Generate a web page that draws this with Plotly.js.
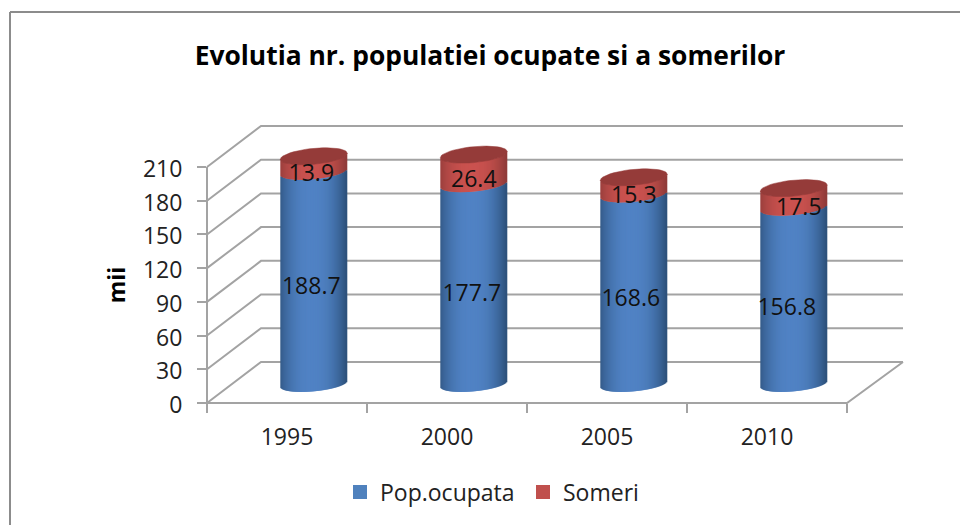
<!DOCTYPE html>
<html><head><meta charset="utf-8">
<script src="https://cdn.plot.ly/plotly-3.0.1.min.js"></script>
<style>html,body{margin:0;padding:0;background:#fff;overflow:hidden}</style>
</head><body><div id="chart" style="width:960px;height:525px"></div>
<script>
const years = ['1995','2000','2005','2010'];
const popOcupata = [188.7,177.7,168.6,156.8];
const someri = [13.9,26.4,15.3,17.5];
const yTicks = [0,30,60,90,120,150,180,210];
const seriesNames = ['Pop.ocupata','Someri'];
const titleText = 'Evolutia nr. populatiei ocupate si a somerilor';
const yTitle = 'mii';

// layout frame in pixels
const L=190,R=915,T=115,B=425,axL=207,axR=847,axT=167,axB=403;
const W=R-L,H=B-T, pxPerCat=(axR-axL)/4, pxPerUnit=(axB-axT)/210;
const dataX=p=>-0.5+(p-axL)/pxPerCat, dataY=p=>(axB-p)/pxPerUnit;
const paperX=p=>(p-L)/W, paperY=p=>(B-p)/H;

// pseudo-3D projection, in axis units
const depthX = 0.3375, depthXRight = 0.35, depthY = 36.5;
const cylDx = 0.1675, cylDy = 16.9;
const halfW = 0.2063, ellH = 6.5, tilt = 2.7, N = 67;
const labelFont = 'Open Sans, Noto Sans, sans-serif';
const blueLabelNudgeX = [-2.5,-2,-3,-7].map(v=>v/160);
const blueLabelNudgeY = [-8.9,-9.7,-9.7,-12.2];
const redLabelNudgeX = [-2.5,0,0,5].map(v=>v/160);

const xs = years.map((_,i)=>i);
const mix = (a,b,t)=>'rgb('+a.map((v,i)=>Math.round(v+(b[i]-v)*t)).join(',')+')';
const shade = (light,dark,u)=>{const t=Math.min(1,Math.pow(Math.abs(u+0.05)/1.05,2.4));return mix(light,dark,t);};
const blueL=[80,130,196], blueD=[44,80,122], redL=[202,82,79], redD=[142,58,56];

const traces = [];
// walls / floor lines (bottom subplot)
const gx=[], gy=[];
yTicks.forEach(v=>{
  gx.push(-0.5,-0.5+depthX,3.5+depthXRight,null);
  gy.push(v,v+depthY,v+depthY,null);
});
gx.push(3.5+depthXRight,3.5,-0.5,-0.5); gy.push(depthY,0,0,210);
traces.push({type:'scatter',mode:'lines',x:gx,y:gy,line:{color:'#a3a3a3',width:2},showlegend:false,hoverinfo:'skip'});

// cylinder bodies: thin vertical bars
const tot = popOcupata.map((v,i)=>v+someri[i]);
for(let k=0;k<N;k++){
  const u=-1+(2*k+1)/N, low=tilt*u-ellH*Math.sqrt(1-u*u);
  const x=xs.map(i=>i+cylDx+u*halfW);
  const w=2*halfW/N*2;
  traces.push({type:'bar',xaxis:'x2',yaxis:'y2',x,y:popOcupata,base:xs.map(()=>cylDy+low),width:w,
    marker:{color:shade(blueL,blueD,u),line:{width:0}},showlegend:false,hoverinfo:'skip'});
  traces.push({type:'bar',xaxis:'x2',yaxis:'y2',x,y:someri,base:popOcupata.map(v=>cylDy+v+low),width:w,
    marker:{color:shade(redL,redD,u),line:{width:0}},showlegend:false,hoverinfo:'skip'});
}
// top caps
tot.forEach((v,i)=>{
  const cx=[],cy=[];
  for(let a=0;a<=48;a++){
    const th=a/48*2*Math.PI,u=Math.cos(th);
    cx.push(i+cylDx+u*(halfW+0.003));
    cy.push(cylDy+v+tilt*u+(ellH+0.6)*Math.sin(th));
  }
  traces.push({type:'scatter',mode:'lines',xaxis:'x2',yaxis:'y2',x:cx,y:cy,fill:'toself',fillcolor:'#953b39',
    line:{color:'#953b39',width:0.5},showlegend:false,hoverinfo:'skip'});
});
// data labels
const lf={family:labelFont,size:23,color:'#111'};
traces.push({type:'scatter',mode:'text',xaxis:'x2',yaxis:'y2',
  x:xs.map(i=>i+cylDx+blueLabelNudgeX[i]),y:popOcupata.map((v,i)=>cylDy+v/2+blueLabelNudgeY[i]),
  text:popOcupata.map(v=>v.toFixed(1)),textfont:lf,textposition:'middle center',showlegend:false,hoverinfo:'skip'});
traces.push({type:'scatter',mode:'text',xaxis:'x2',yaxis:'y2',
  x:xs.map(i=>i+cylDx+redLabelNudgeX[i]),y:tot.map((v,i)=>cylDy+v-someri[i]/2-10.1),
  text:someri.map(v=>v.toFixed(1)),textfont:lf,textposition:'middle center',showlegend:false,hoverinfo:'skip'});
// legend entries live on the axes subplot
[['#4f81bd',0],['#c0504d',1]].forEach(([c,i])=>{
  traces.push({type:'bar',x:[null],y:[null],xaxis:'x3',yaxis:'y3',name:seriesNames[i],marker:{color:c,line:{color:c,width:2}},showlegend:true,hoverinfo:'skip'});
});

const wideX=[dataX(L),dataX(R)], wideY=[dataY(B),dataY(T)];
const tf={family:labelFont,size:23,color:'#222'};
const layout={
  width:960,height:525,paper_bgcolor:'#fff',plot_bgcolor:'rgba(0,0,0,0)',
  margin:{l:L,r:960-R,t:T,b:525-B,autoexpand:false},
  barmode:'overlay',hovermode:false,
  title:{text:titleText,x:490/960,xanchor:'center',xref:'container',y:1-56/525,yref:'container',yanchor:'middle',
    font:{family:labelFont,size:26.4,color:'#000',weight:700}},
  xaxis:{range:wideX,visible:false,fixedrange:true},
  yaxis:{range:wideY,visible:false,fixedrange:true},
  xaxis2:{range:wideX,overlaying:'x',visible:false},
  yaxis2:{range:wideY,overlaying:'y',visible:false},
  xaxis3:{domain:[paperX(axL),paperX(axR)],anchor:'y3',range:[-0.5,3.5],tickmode:'array',tickvals:xs,ticktext:years,ticks:'',
    showgrid:false,zeroline:false,showline:false,tickfont:tf,ticklabelstandoff:18,
    minor:{tickmode:'array',tickvals:[-0.5,0.5,1.5,2.5,3.5],ticks:'outside',ticklen:9,tickwidth:2,tickcolor:'#a3a3a3',showgrid:false}},
  yaxis3:{domain:[paperY(axB),paperY(axT)],anchor:'x3',range:[0,210],tickmode:'array',tickvals:yTicks,ticks:'outside',ticklen:9,tickwidth:2,tickcolor:'#a3a3a3',
    showgrid:false,zeroline:false,showline:false,ticklabelstandoff:10,ticklabelshift:2,tickfont:tf,
    title:{text:yTitle,standoff:10,font:{family:labelFont,size:23,color:'#000',weight:700}}},
  legend:{orientation:'h',x:paperX(340),xanchor:'left',y:paperY(492),yanchor:'middle',
    entrywidth:138,entrywidthmode:'pixels',
    font:{family:labelFont,size:23,color:'#222'},bgcolor:'rgba(0,0,0,0)'},
  shapes:[
    {type:'line',xref:'paper',yref:'paper',x0:paperX(10),x1:paperX(960),y0:paperY(12),y1:paperY(12),line:{color:'#8c8c8c',width:2}},
    {type:'line',xref:'paper',yref:'paper',x0:paperX(10),x1:paperX(10),y0:paperY(12),y1:paperY(525),line:{color:'#8c8c8c',width:2}}
  ]
};
Plotly.newPlot('chart',traces,layout,{displayModeBar:false,staticPlot:true});
</script></body></html>
